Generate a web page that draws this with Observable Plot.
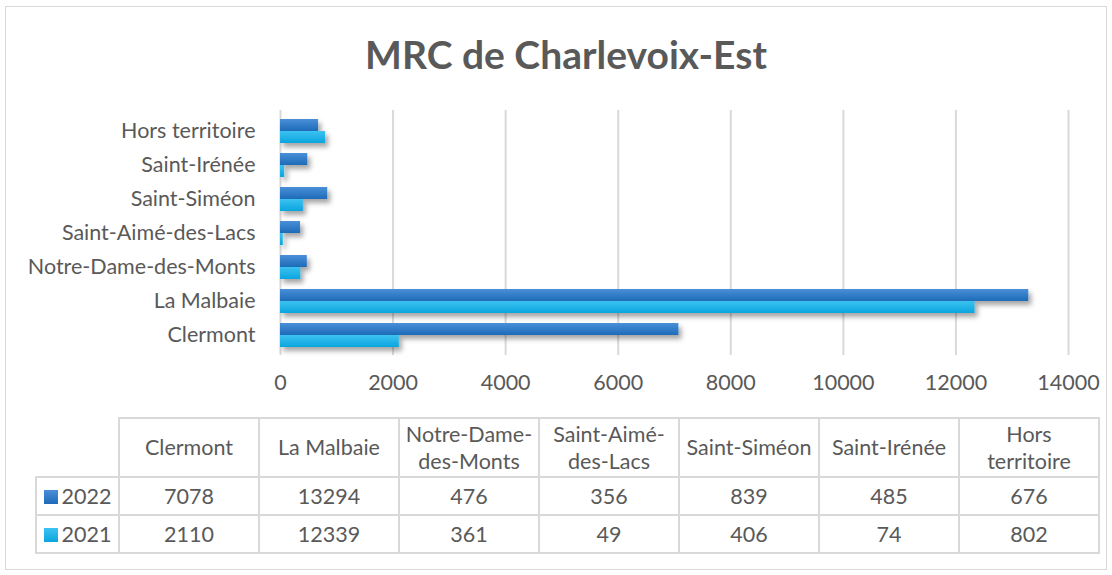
<!DOCTYPE html>
<html><head><meta charset="utf-8">
<script src="https://cdn.jsdelivr.net/npm/d3@7"></script>
<script src="https://cdn.jsdelivr.net/npm/@observablehq/plot@0.6"></script>
<style>
body{margin:0;background:#fff;font-family:Lato,"Open Sans",sans-serif;}
#frame{position:relative;width:1112px;height:575px;overflow:hidden;background:#fff;}
#border{position:absolute;left:5px;top:6px;width:1102px;height:564px;border:1.5px solid #d9d9d9;box-sizing:border-box;}
#title{position:absolute;left:0;width:1132px;top:32px;text-align:center;font-family:Lato,sans-serif;font-weight:bold;font-size:39px;color:#595959;line-height:44px;}
#chart{position:absolute;left:0;top:0;}
#tbl{position:absolute;left:35px;top:417px;border-collapse:collapse;font-family:Lato,sans-serif;font-size:21.5px;color:#595959;table-layout:fixed;}
#tbl td{border:2px solid #d9d9d9;text-align:center;padding:0;line-height:27px;white-space:nowrap;}
#tbl td.blank{border-top:none;border-left:none;}
#tbl tr.head td{height:57px;}
#tbl tr.body td{height:36px;}
.sw{display:inline-block;width:14px;height:14px;margin-right:4px;vertical-align:0px;}
</style>
</head><body>
<div id="frame">
  <div id="border"></div>
  <div id="chart"></div>
  <div id="title"></div>
  <table id="tbl"></table>
</div>
<script>
const title = "MRC de Charlevoix-Est";
const categories = ["Clermont","La Malbaie","Notre-Dame-des-Monts","Saint-Aimé-des-Lacs","Saint-Siméon","Saint-Irénée","Hors territoire"];
const headerLabels = ["Clermont","La Malbaie","Notre-Dame-<br>des-Monts","Saint-Aimé-<br>des-Lacs","Saint-Siméon","Saint-Irénée","Hors<br>territoire"];
const years = ["2022","2021"];
const values2022 = [7078,13294,476,356,839,485,676];
const values2021 = [2110,12339,361,49,406,74,802];
const xTicks = [0,2000,4000,6000,8000,10000,12000,14000];

document.getElementById("title").textContent = title;

const rows2022 = categories.map((c,i)=>({cat:c,year:"2022",value:values2022[i]}));
const rows2021 = categories.map((c,i)=>({cat:c,year:"2021",value:values2021[i]}));

const chart = Plot.plot({
  width:1112, height:400,
  marginLeft:280, marginRight:44, marginTop:110, marginBottom:45,
  style:{fontFamily:"Lato, sans-serif", background:"transparent"},
  x:{domain:[0,14000]},
  y:{domain:categories.slice().reverse(), range:[113,353], paddingInner:0.3, paddingOuter:0.15},
  marks:[
    Plot.gridX(xTicks,{stroke:"#d9d9d9",strokeOpacity:1,strokeWidth:2}),
    Plot.barX(rows2022,{x:"value",y:"cat",fill:"url(#g2022)",insetBottom:12,className:"b2022"}),
    Plot.barX(rows2021,{x:"value",y:"cat",fill:"url(#g2021)",insetTop:12,className:"b2021"}),
    Plot.axisX(xTicks,{tickSize:0,tickPadding:19,fontSize:21.5,fill:"#595959",label:null,tickFormat:d=>String(d)}),
    Plot.axisY({tickSize:0,tickPadding:25,fontSize:21.5,fill:"#595959",label:null})
  ]
});
document.getElementById("chart").appendChild(chart);

const svg = d3.select(chart);
const defs = svg.insert("defs",":first-child");
function grad(id, top, bottom){
  const g = defs.append("linearGradient").attr("id",id).attr("x1",0).attr("y1",0).attr("x2",0).attr("y2",1);
  g.append("stop").attr("offset","0%").attr("stop-color",top);
  g.append("stop").attr("offset","100%").attr("stop-color",bottom);
}
grad("g2022","#4a8fd8","#1e6bb8");
grad("g2021","#3cc2f1","#0ba5de");
const f = defs.append("filter").attr("id","shadow").attr("x","-10%").attr("y","-50%").attr("width","130%").attr("height","250%");
f.append("feDropShadow").attr("dx",3).attr("dy",4).attr("stdDeviation",2.5).attr("flood-color","#000").attr("flood-opacity",0.35);
svg.selectAll("g.b2022, g.b2021").attr("filter","url(#shadow)");

// Data table
const tbl = d3.select("#tbl");
const colg = tbl.append("colgroup");
colg.append("col").style("width","83px");
categories.forEach(()=>colg.append("col").style("width","140px"));
const head = tbl.append("tr").attr("class","head");
head.append("td").attr("class","blank");
headerLabels.forEach(h=>head.append("td").html(h));
const valsByYear = {"2022":values2022,"2021":values2021};
years.forEach(y=>{
  const tr = tbl.append("tr").attr("class","body");
  const c = tr.append("td");
  c.append("span").attr("class","sw").style("background",y==="2022"?"linear-gradient(#4a8fd8,#1e6bb8)":"linear-gradient(#3cc2f1,#0ba5de)");
  c.append("span").text(y);
  valsByYear[y].forEach(v=>tr.append("td").text(v));
});
</script>
</body></html>
